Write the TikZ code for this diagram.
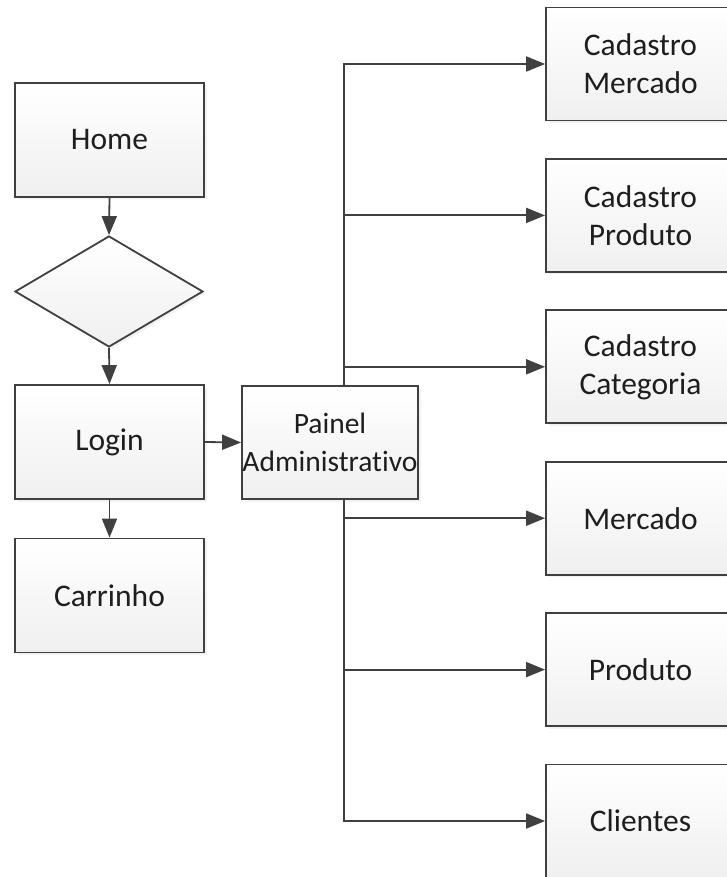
\documentclass[tikz,border=0pt]{standalone}
\usepackage{fontspec}
\setmainfont{Carlito}[Ligatures={NoCommon}]
\usetikzlibrary{arrows.meta,shapes.geometric,shadows,backgrounds}
\definecolor{edge}{HTML}{404040}
\definecolor{txt}{HTML}{1E1E1E}
\tikzset{
  box/.style={draw=edge, line width=1.8pt, top color=white, bottom color=black!6,
    minimum width=189pt, minimum height=114pt, inner sep=0pt, align=center,
    text=txt, font=\fontsize{31.5}{38}\selectfont,
    drop shadow={opacity=0.1, shadow xshift=2.5pt, shadow yshift=-2.5pt}},
  dec/.style={box, diamond, minimum width=188pt, minimum height=111pt},
  conn/.style={draw=edge, line width=1.8pt, -{Triangle[length=19pt,width=15pt]}}
}
\begin{document}
\begin{tikzpicture}[x=1pt,y=-1pt]
\useasboundingbox (0,0) rectangle (727,877);
\node[box] (home) at (109.5,140) {Home};
\node[dec] (decision) at (109,291.5) {};
\node[box] (login) at (109.5,442) {Login};
\node[box] (carrinho) at (109.5,595.5) {Carrinho};
\node[box, minimum width=176pt, minimum height=113pt, font=\fontsize{29.5}{38}\selectfont] (painel) at (330,442.5) {Painel\\Administrativo};
\node[box, minimum height=113pt] (cm) at (640.5,64) {Cadastro\\Mercado};
\node[box, minimum height=113pt] (cp) at (640.5,215.4) {Cadastro\\Produto};
\node[box, minimum height=113pt] (cc) at (640.5,366.8) {Cadastro\\Categoria};
\node[box, minimum height=113pt] (me) at (640.5,518.2) {Mercado};
\node[box, minimum height=113pt] (pr) at (640.5,669.6) {Produto};
\node[box, minimum height=113pt] (cl) at (640.5,821) {Clientes};
\coordinate (trunk) at (344,0);
\begin{scope}[on background layer]
\draw[conn] (home.south) -- (decision.north);
\draw[conn] (decision.south) -- (login.north);
\draw[conn] (login.south) -- (carrinho.north);
\draw[conn] (login.east) -- (painel.west);
\draw[conn] (painel.north -| trunk) |- (cm.west);
\draw[conn] (painel.north -| trunk) |- (cp.west);
\draw[conn] (painel.north -| trunk) |- (cc.west);
\draw[conn] (painel.south -| trunk) |- (me.west);
\draw[conn] (painel.south -| trunk) |- (pr.west);
\draw[conn] (painel.south -| trunk) |- (cl.west);
\end{scope}
\end{tikzpicture}
\end{document}
